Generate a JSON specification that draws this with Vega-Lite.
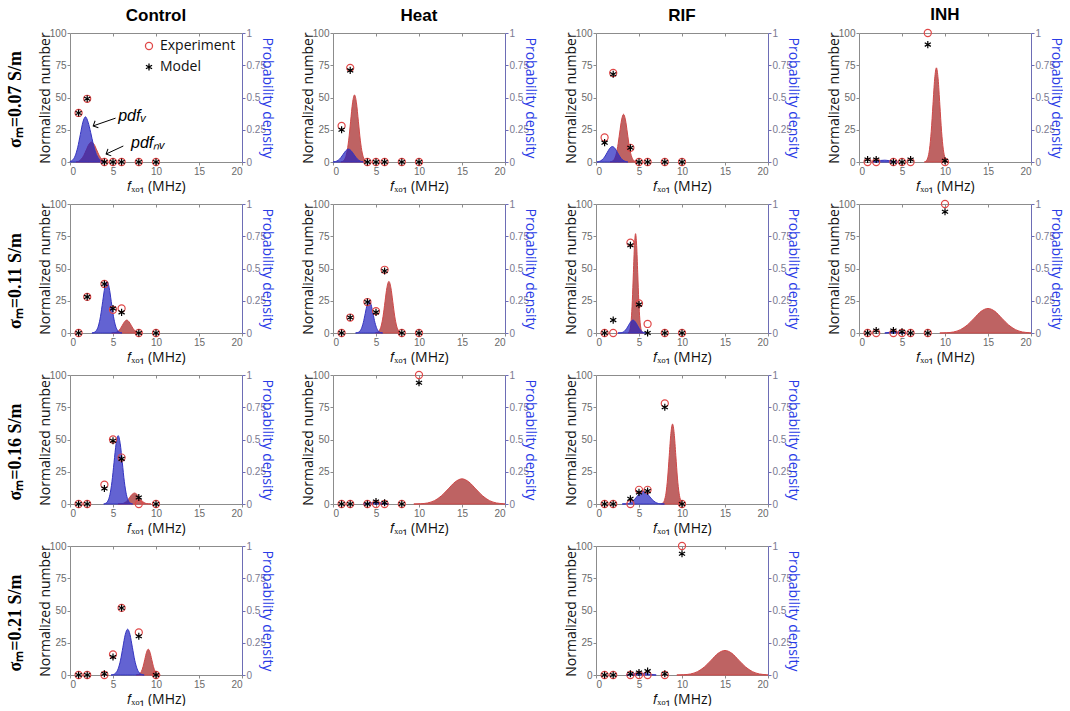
{
  "$schema": "https://vega.github.io/schema/vega-lite/v6.json",
  "background": "white",
  "padding": {"left": 7, "top": 6, "right": 0, "bottom": 0},
  "datasets": {
    "pts": [
      {"panel":"C07","series":"Experiment","f":1,"n":38},{"panel":"C07","series":"Experiment","f":2,"n":49},{"panel":"C07","series":"Experiment","f":4,"n":0},{"panel":"C07","series":"Experiment","f":5,"n":0},{"panel":"C07","series":"Experiment","f":6,"n":0},{"panel":"C07","series":"Experiment","f":8,"n":0},{"panel":"C07","series":"Experiment","f":10,"n":0},
      {"panel":"C07","series":"Model","f":1,"n":38},{"panel":"C07","series":"Model","f":2,"n":49},{"panel":"C07","series":"Model","f":4,"n":0},{"panel":"C07","series":"Model","f":5,"n":0},{"panel":"C07","series":"Model","f":6,"n":0},{"panel":"C07","series":"Model","f":8,"n":0},{"panel":"C07","series":"Model","f":10,"n":0},
      {"panel":"H07","series":"Experiment","f":1,"n":28},{"panel":"H07","series":"Experiment","f":2,"n":73},{"panel":"H07","series":"Experiment","f":4,"n":0},{"panel":"H07","series":"Experiment","f":5,"n":0},{"panel":"H07","series":"Experiment","f":6,"n":0},{"panel":"H07","series":"Experiment","f":8,"n":0},{"panel":"H07","series":"Experiment","f":10,"n":0},
      {"panel":"H07","series":"Model","f":1,"n":25},{"panel":"H07","series":"Model","f":2,"n":71},{"panel":"H07","series":"Model","f":4,"n":0},{"panel":"H07","series":"Model","f":5,"n":0},{"panel":"H07","series":"Model","f":6,"n":0},{"panel":"H07","series":"Model","f":8,"n":0},{"panel":"H07","series":"Model","f":10,"n":0},
      {"panel":"R07","series":"Experiment","f":1,"n":19},{"panel":"R07","series":"Experiment","f":2,"n":69},{"panel":"R07","series":"Experiment","f":4,"n":11},{"panel":"R07","series":"Experiment","f":5,"n":0},{"panel":"R07","series":"Experiment","f":6,"n":0},{"panel":"R07","series":"Experiment","f":8,"n":0},{"panel":"R07","series":"Experiment","f":10,"n":0},
      {"panel":"R07","series":"Model","f":1,"n":15},{"panel":"R07","series":"Model","f":2,"n":68},{"panel":"R07","series":"Model","f":4,"n":11},{"panel":"R07","series":"Model","f":5,"n":0},{"panel":"R07","series":"Model","f":6,"n":0},{"panel":"R07","series":"Model","f":8,"n":0},{"panel":"R07","series":"Model","f":10,"n":0},
      {"panel":"I07","series":"Experiment","f":1,"n":0},{"panel":"I07","series":"Experiment","f":2,"n":0},{"panel":"I07","series":"Experiment","f":4,"n":0},{"panel":"I07","series":"Experiment","f":5,"n":0},{"panel":"I07","series":"Experiment","f":6,"n":0},{"panel":"I07","series":"Experiment","f":8,"n":100},{"panel":"I07","series":"Experiment","f":10,"n":0},
      {"panel":"I07","series":"Model","f":1,"n":2},{"panel":"I07","series":"Model","f":2,"n":2},{"panel":"I07","series":"Model","f":4,"n":0},{"panel":"I07","series":"Model","f":5,"n":0},{"panel":"I07","series":"Model","f":6,"n":2},{"panel":"I07","series":"Model","f":8,"n":91},{"panel":"I07","series":"Model","f":10,"n":1},
      {"panel":"C11","series":"Experiment","f":1,"n":0},{"panel":"C11","series":"Experiment","f":2,"n":28},{"panel":"C11","series":"Experiment","f":4,"n":38},{"panel":"C11","series":"Experiment","f":5,"n":18},{"panel":"C11","series":"Experiment","f":6,"n":19},{"panel":"C11","series":"Experiment","f":8,"n":0},{"panel":"C11","series":"Experiment","f":10,"n":0},
      {"panel":"C11","series":"Model","f":1,"n":0},{"panel":"C11","series":"Model","f":2,"n":28},{"panel":"C11","series":"Model","f":4,"n":38},{"panel":"C11","series":"Model","f":5,"n":19},{"panel":"C11","series":"Model","f":6,"n":16},{"panel":"C11","series":"Model","f":8,"n":0},{"panel":"C11","series":"Model","f":10,"n":0},
      {"panel":"H11","series":"Experiment","f":1,"n":0},{"panel":"H11","series":"Experiment","f":2,"n":12},{"panel":"H11","series":"Experiment","f":4,"n":24},{"panel":"H11","series":"Experiment","f":5,"n":17},{"panel":"H11","series":"Experiment","f":6,"n":49},{"panel":"H11","series":"Experiment","f":8,"n":0},{"panel":"H11","series":"Experiment","f":10,"n":0},
      {"panel":"H11","series":"Model","f":1,"n":0},{"panel":"H11","series":"Model","f":2,"n":12},{"panel":"H11","series":"Model","f":4,"n":24},{"panel":"H11","series":"Model","f":5,"n":16},{"panel":"H11","series":"Model","f":6,"n":48},{"panel":"H11","series":"Model","f":8,"n":0},{"panel":"H11","series":"Model","f":10,"n":0},
      {"panel":"R11","series":"Experiment","f":1,"n":0},{"panel":"R11","series":"Experiment","f":2,"n":0},{"panel":"R11","series":"Experiment","f":4,"n":70},{"panel":"R11","series":"Experiment","f":5,"n":23},{"panel":"R11","series":"Experiment","f":6,"n":7},{"panel":"R11","series":"Experiment","f":8,"n":0},{"panel":"R11","series":"Experiment","f":10,"n":0},
      {"panel":"R11","series":"Model","f":1,"n":0},{"panel":"R11","series":"Model","f":2,"n":10},{"panel":"R11","series":"Model","f":4,"n":68},{"panel":"R11","series":"Model","f":5,"n":22},{"panel":"R11","series":"Model","f":6,"n":0},{"panel":"R11","series":"Model","f":8,"n":0},{"panel":"R11","series":"Model","f":10,"n":0},
      {"panel":"I11","series":"Experiment","f":1,"n":0},{"panel":"I11","series":"Experiment","f":2,"n":0},{"panel":"I11","series":"Experiment","f":4,"n":0},{"panel":"I11","series":"Experiment","f":5,"n":0},{"panel":"I11","series":"Experiment","f":6,"n":0},{"panel":"I11","series":"Experiment","f":8,"n":0},{"panel":"I11","series":"Experiment","f":10,"n":100},
      {"panel":"I11","series":"Model","f":1,"n":0},{"panel":"I11","series":"Model","f":2,"n":2},{"panel":"I11","series":"Model","f":4,"n":2},{"panel":"I11","series":"Model","f":5,"n":1},{"panel":"I11","series":"Model","f":6,"n":0},{"panel":"I11","series":"Model","f":8,"n":0},{"panel":"I11","series":"Model","f":10,"n":94},
      {"panel":"C16","series":"Experiment","f":1,"n":0},{"panel":"C16","series":"Experiment","f":2,"n":0},{"panel":"C16","series":"Experiment","f":4,"n":15},{"panel":"C16","series":"Experiment","f":5,"n":50},{"panel":"C16","series":"Experiment","f":6,"n":36},{"panel":"C16","series":"Experiment","f":8,"n":0},{"panel":"C16","series":"Experiment","f":10,"n":0},
      {"panel":"C16","series":"Model","f":1,"n":0},{"panel":"C16","series":"Model","f":2,"n":0},{"panel":"C16","series":"Model","f":4,"n":12},{"panel":"C16","series":"Model","f":5,"n":49},{"panel":"C16","series":"Model","f":6,"n":35},{"panel":"C16","series":"Model","f":8,"n":5},{"panel":"C16","series":"Model","f":10,"n":0},
      {"panel":"H16","series":"Experiment","f":1,"n":0},{"panel":"H16","series":"Experiment","f":2,"n":0},{"panel":"H16","series":"Experiment","f":4,"n":0},{"panel":"H16","series":"Experiment","f":5,"n":0},{"panel":"H16","series":"Experiment","f":6,"n":0},{"panel":"H16","series":"Experiment","f":8,"n":0},{"panel":"H16","series":"Experiment","f":10,"n":100},
      {"panel":"H16","series":"Model","f":1,"n":0},{"panel":"H16","series":"Model","f":2,"n":0},{"panel":"H16","series":"Model","f":4,"n":0},{"panel":"H16","series":"Model","f":5,"n":2},{"panel":"H16","series":"Model","f":6,"n":1},{"panel":"H16","series":"Model","f":8,"n":0},{"panel":"H16","series":"Model","f":10,"n":94},
      {"panel":"R16","series":"Experiment","f":1,"n":0},{"panel":"R16","series":"Experiment","f":2,"n":0},{"panel":"R16","series":"Experiment","f":4,"n":0},{"panel":"R16","series":"Experiment","f":5,"n":11},{"panel":"R16","series":"Experiment","f":6,"n":11},{"panel":"R16","series":"Experiment","f":8,"n":78},{"panel":"R16","series":"Experiment","f":10,"n":0},
      {"panel":"R16","series":"Model","f":1,"n":0},{"panel":"R16","series":"Model","f":2,"n":0},{"panel":"R16","series":"Model","f":4,"n":4},{"panel":"R16","series":"Model","f":5,"n":9},{"panel":"R16","series":"Model","f":6,"n":10},{"panel":"R16","series":"Model","f":8,"n":75},{"panel":"R16","series":"Model","f":10,"n":0},
      {"panel":"C21","series":"Experiment","f":1,"n":0},{"panel":"C21","series":"Experiment","f":2,"n":0},{"panel":"C21","series":"Experiment","f":4,"n":0},{"panel":"C21","series":"Experiment","f":5,"n":16},{"panel":"C21","series":"Experiment","f":6,"n":52},{"panel":"C21","series":"Experiment","f":8,"n":33},{"panel":"C21","series":"Experiment","f":10,"n":0},
      {"panel":"C21","series":"Model","f":1,"n":0},{"panel":"C21","series":"Model","f":2,"n":0},{"panel":"C21","series":"Model","f":4,"n":1},{"panel":"C21","series":"Model","f":5,"n":14},{"panel":"C21","series":"Model","f":6,"n":52},{"panel":"C21","series":"Model","f":8,"n":30},{"panel":"C21","series":"Model","f":10,"n":0},
      {"panel":"R21","series":"Experiment","f":1,"n":0},{"panel":"R21","series":"Experiment","f":2,"n":0},{"panel":"R21","series":"Experiment","f":4,"n":0},{"panel":"R21","series":"Experiment","f":5,"n":0},{"panel":"R21","series":"Experiment","f":6,"n":0},{"panel":"R21","series":"Experiment","f":8,"n":0},{"panel":"R21","series":"Experiment","f":10,"n":100},
      {"panel":"R21","series":"Model","f":1,"n":0},{"panel":"R21","series":"Model","f":2,"n":0},{"panel":"R21","series":"Model","f":4,"n":1},{"panel":"R21","series":"Model","f":5,"n":2},{"panel":"R21","series":"Model","f":6,"n":3},{"panel":"R21","series":"Model","f":8,"n":1},{"panel":"R21","series":"Model","f":10,"n":94}
    ],
    "pdf": [
      {"panel":"C07","series":"v","f":0,"p":0.004},{"panel":"C07","series":"v","f":0.3,"p":0.015},{"panel":"C07","series":"v","f":0.6,"p":0.047},{"panel":"C07","series":"v","f":0.9,"p":0.114},{"panel":"C07","series":"v","f":1.2,"p":0.212},{"panel":"C07","series":"v","f":1.5,"p":0.309},{"panel":"C07","series":"v","f":1.8,"p":0.35},{"panel":"C07","series":"v","f":2.1,"p":0.309},{"panel":"C07","series":"v","f":2.4,"p":0.23},{"panel":"C07","series":"v","f":2.7,"p":0.14},{"panel":"C07","series":"v","f":3.0,"p":0.07},{"panel":"C07","series":"v","f":3.3,"p":0.03},{"panel":"C07","series":"v","f":3.6,"p":0.01},{"panel":"C07","series":"v","f":3.9,"p":0},
      {"panel":"C07","series":"nv","f":0.7,"p":0},{"panel":"C07","series":"nv","f":1.0,"p":0.005},{"panel":"C07","series":"nv","f":1.3,"p":0.021},{"panel":"C07","series":"nv","f":1.6,"p":0.05},{"panel":"C07","series":"nv","f":1.9,"p":0.094},{"panel":"C07","series":"nv","f":2.2,"p":0.137},{"panel":"C07","series":"nv","f":2.5,"p":0.155},{"panel":"C07","series":"nv","f":2.8,"p":0.137},{"panel":"C07","series":"nv","f":3.1,"p":0.094},{"panel":"C07","series":"nv","f":3.4,"p":0.05},{"panel":"C07","series":"nv","f":3.7,"p":0.021},{"panel":"C07","series":"nv","f":4.0,"p":0.007},{"panel":"C07","series":"nv","f":4.3,"p":0},
      {"panel":"H07","series":"nv","f":0.925,"p":0},{"panel":"H07","series":"nv","f":1.15,"p":0.006},{"panel":"H07","series":"nv","f":1.375,"p":0.023},{"panel":"H07","series":"nv","f":1.6,"p":0.07},{"panel":"H07","series":"nv","f":1.825,"p":0.169},{"panel":"H07","series":"nv","f":2.05,"p":0.316},{"panel":"H07","series":"nv","f":2.275,"p":0.459},{"panel":"H07","series":"nv","f":2.5,"p":0.52},{"panel":"H07","series":"nv","f":2.725,"p":0.459},{"panel":"H07","series":"nv","f":2.95,"p":0.316},{"panel":"H07","series":"nv","f":3.175,"p":0.169},{"panel":"H07","series":"nv","f":3.4,"p":0.07},{"panel":"H07","series":"nv","f":3.625,"p":0.023},{"panel":"H07","series":"nv","f":3.85,"p":0.006},{"panel":"H07","series":"nv","f":4.075,"p":0},
      {"panel":"H07","series":"v","f":0,"p":0},{"panel":"H07","series":"v","f":0.3,"p":0.004},{"panel":"H07","series":"v","f":0.6,"p":0.013},{"panel":"H07","series":"v","f":0.9,"p":0.033},{"panel":"H07","series":"v","f":1.2,"p":0.061},{"panel":"H07","series":"v","f":1.5,"p":0.088},{"panel":"H07","series":"v","f":1.8,"p":0.1},{"panel":"H07","series":"v","f":2.1,"p":0.088},{"panel":"H07","series":"v","f":2.4,"p":0.061},{"panel":"H07","series":"v","f":2.7,"p":0.033},{"panel":"H07","series":"v","f":3.0,"p":0.013},{"panel":"H07","series":"v","f":3.3,"p":0.004},{"panel":"H07","series":"v","f":3.6,"p":0},
      {"panel":"R07","series":"nv","f":1.625,"p":0},{"panel":"R07","series":"nv","f":1.85,"p":0.004},{"panel":"R07","series":"nv","f":2.075,"p":0.016},{"panel":"R07","series":"nv","f":2.3,"p":0.05},{"panel":"R07","series":"nv","f":2.525,"p":0.12},{"panel":"R07","series":"nv","f":2.75,"p":0.225},{"panel":"R07","series":"nv","f":2.975,"p":0.326},{"panel":"R07","series":"nv","f":3.2,"p":0.37},{"panel":"R07","series":"nv","f":3.425,"p":0.326},{"panel":"R07","series":"nv","f":3.65,"p":0.225},{"panel":"R07","series":"nv","f":3.875,"p":0.12},{"panel":"R07","series":"nv","f":4.1,"p":0.05},{"panel":"R07","series":"nv","f":4.325,"p":0.016},{"panel":"R07","series":"nv","f":4.55,"p":0.004},{"panel":"R07","series":"nv","f":4.775,"p":0},
      {"panel":"R07","series":"v","f":0.1,"p":0},{"panel":"R07","series":"v","f":0.4,"p":0.005},{"panel":"R07","series":"v","f":0.7,"p":0.016},{"panel":"R07","series":"v","f":1.0,"p":0.039},{"panel":"R07","series":"v","f":1.3,"p":0.073},{"panel":"R07","series":"v","f":1.6,"p":0.106},{"panel":"R07","series":"v","f":1.9,"p":0.12},{"panel":"R07","series":"v","f":2.2,"p":0.106},{"panel":"R07","series":"v","f":2.5,"p":0.073},{"panel":"R07","series":"v","f":2.8,"p":0.039},{"panel":"R07","series":"v","f":3.1,"p":0.016},{"panel":"R07","series":"v","f":3.4,"p":0.005},{"panel":"R07","series":"v","f":3.7,"p":0},
      {"panel":"I07","series":"nv","f":7.6,"p":0},{"panel":"I07","series":"nv","f":7.8,"p":0.008},{"panel":"I07","series":"nv","f":8.0,"p":0.032},{"panel":"I07","series":"nv","f":8.2,"p":0.099},{"panel":"I07","series":"nv","f":8.4,"p":0.237},{"panel":"I07","series":"nv","f":8.6,"p":0.443},{"panel":"I07","series":"nv","f":8.8,"p":0.644},{"panel":"I07","series":"nv","f":9.0,"p":0.73},{"panel":"I07","series":"nv","f":9.2,"p":0.644},{"panel":"I07","series":"nv","f":9.4,"p":0.443},{"panel":"I07","series":"nv","f":9.6,"p":0.237},{"panel":"I07","series":"nv","f":9.8,"p":0.099},{"panel":"I07","series":"nv","f":10.0,"p":0.032},{"panel":"I07","series":"nv","f":10.2,"p":0.008},{"panel":"I07","series":"nv","f":10.4,"p":0},
      {"panel":"I07","series":"v","f":1.5,"p":0},{"panel":"I07","series":"v","f":2.0,"p":0.006},{"panel":"I07","series":"v","f":2.5,"p":0.012},{"panel":"I07","series":"v","f":3.0,"p":0.014},{"panel":"I07","series":"v","f":3.5,"p":0.01},{"panel":"I07","series":"v","f":4.0,"p":0.004},{"panel":"I07","series":"v","f":4.5,"p":0},
      {"panel":"C11","series":"nv","f":4.85,"p":0},{"panel":"C11","series":"nv","f":5.1,"p":0.001},{"panel":"C11","series":"nv","f":5.35,"p":0.004},{"panel":"C11","series":"nv","f":5.6,"p":0.014},{"panel":"C11","series":"nv","f":5.85,"p":0.033},{"panel":"C11","series":"nv","f":6.1,"p":0.061},{"panel":"C11","series":"nv","f":6.35,"p":0.088},{"panel":"C11","series":"nv","f":6.6,"p":0.1},{"panel":"C11","series":"nv","f":6.85,"p":0.088},{"panel":"C11","series":"nv","f":7.1,"p":0.061},{"panel":"C11","series":"nv","f":7.35,"p":0.033},{"panel":"C11","series":"nv","f":7.6,"p":0.014},{"panel":"C11","series":"nv","f":7.85,"p":0.004},{"panel":"C11","series":"nv","f":8.1,"p":0.001},{"panel":"C11","series":"nv","f":8.35,"p":0},
      {"panel":"C11","series":"v","f":2.55,"p":0},{"panel":"C11","series":"v","f":2.8,"p":0.004},{"panel":"C11","series":"v","f":3.05,"p":0.018},{"panel":"C11","series":"v","f":3.3,"p":0.054},{"panel":"C11","series":"v","f":3.55,"p":0.13},{"panel":"C11","series":"v","f":3.8,"p":0.243},{"panel":"C11","series":"v","f":4.05,"p":0.353},{"panel":"C11","series":"v","f":4.3,"p":0.4},{"panel":"C11","series":"v","f":4.55,"p":0.353},{"panel":"C11","series":"v","f":4.8,"p":0.243},{"panel":"C11","series":"v","f":5.05,"p":0.13},{"panel":"C11","series":"v","f":5.3,"p":0.054},{"panel":"C11","series":"v","f":5.55,"p":0.018},{"panel":"C11","series":"v","f":5.8,"p":0.004},{"panel":"C11","series":"v","f":6.05,"p":0},
      {"panel":"H11","series":"nv","f":4.925,"p":0},{"panel":"H11","series":"nv","f":5.15,"p":0.004},{"panel":"H11","series":"nv","f":5.375,"p":0.018},{"panel":"H11","series":"nv","f":5.6,"p":0.054},{"panel":"H11","series":"nv","f":5.825,"p":0.13},{"panel":"H11","series":"nv","f":6.05,"p":0.243},{"panel":"H11","series":"nv","f":6.275,"p":0.353},{"panel":"H11","series":"nv","f":6.5,"p":0.4},{"panel":"H11","series":"nv","f":6.725,"p":0.353},{"panel":"H11","series":"nv","f":6.95,"p":0.243},{"panel":"H11","series":"nv","f":7.175,"p":0.13},{"panel":"H11","series":"nv","f":7.4,"p":0.054},{"panel":"H11","series":"nv","f":7.625,"p":0.018},{"panel":"H11","series":"nv","f":7.85,"p":0.004},{"panel":"H11","series":"nv","f":8.075,"p":0},
      {"panel":"H11","series":"v","f":2.625,"p":0},{"panel":"H11","series":"v","f":2.85,"p":0.003},{"panel":"H11","series":"v","f":3.075,"p":0.011},{"panel":"H11","series":"v","f":3.3,"p":0.034},{"panel":"H11","series":"v","f":3.525,"p":0.081},{"panel":"H11","series":"v","f":3.75,"p":0.152},{"panel":"H11","series":"v","f":3.975,"p":0.221},{"panel":"H11","series":"v","f":4.2,"p":0.25},{"panel":"H11","series":"v","f":4.425,"p":0.221},{"panel":"H11","series":"v","f":4.65,"p":0.152},{"panel":"H11","series":"v","f":4.875,"p":0.081},{"panel":"H11","series":"v","f":5.1,"p":0.034},{"panel":"H11","series":"v","f":5.325,"p":0.011},{"panel":"H11","series":"v","f":5.55,"p":0.003},{"panel":"H11","series":"v","f":5.775,"p":0},
      {"panel":"R11","series":"nv","f":3.725,"p":0},{"panel":"R11","series":"nv","f":3.85,"p":0.008},{"panel":"R11","series":"nv","f":3.975,"p":0.034},{"panel":"R11","series":"nv","f":4.1,"p":0.104},{"panel":"R11","series":"nv","f":4.225,"p":0.25},{"panel":"R11","series":"nv","f":4.35,"p":0.467},{"panel":"R11","series":"nv","f":4.475,"p":0.679},{"panel":"R11","series":"nv","f":4.6,"p":0.77},{"panel":"R11","series":"nv","f":4.725,"p":0.679},{"panel":"R11","series":"nv","f":4.85,"p":0.467},{"panel":"R11","series":"nv","f":4.975,"p":0.25},{"panel":"R11","series":"nv","f":5.1,"p":0.104},{"panel":"R11","series":"nv","f":5.225,"p":0.034},{"panel":"R11","series":"nv","f":5.35,"p":0.008},{"panel":"R11","series":"nv","f":5.475,"p":0},
      {"panel":"R11","series":"v","f":2.55,"p":0},{"panel":"R11","series":"v","f":2.8,"p":0.001},{"panel":"R11","series":"v","f":3.05,"p":0.004},{"panel":"R11","series":"v","f":3.3,"p":0.014},{"panel":"R11","series":"v","f":3.55,"p":0.033},{"panel":"R11","series":"v","f":3.8,"p":0.061},{"panel":"R11","series":"v","f":4.05,"p":0.088},{"panel":"R11","series":"v","f":4.3,"p":0.1},{"panel":"R11","series":"v","f":4.55,"p":0.088},{"panel":"R11","series":"v","f":4.8,"p":0.061},{"panel":"R11","series":"v","f":5.05,"p":0.033},{"panel":"R11","series":"v","f":5.3,"p":0.014},{"panel":"R11","series":"v","f":5.55,"p":0.004},{"panel":"R11","series":"v","f":5.8,"p":0.001},{"panel":"R11","series":"v","f":6.05,"p":0},
      {"panel":"I11","series":"nv","f":9.4,"p":0},{"panel":"I11","series":"nv","f":10.2,"p":0.002},{"panel":"I11","series":"nv","f":11.0,"p":0.008},{"panel":"I11","series":"nv","f":11.8,"p":0.026},{"panel":"I11","series":"nv","f":12.6,"p":0.062},{"panel":"I11","series":"nv","f":13.4,"p":0.115},{"panel":"I11","series":"nv","f":14.2,"p":0.168},{"panel":"I11","series":"nv","f":15.0,"p":0.19},{"panel":"I11","series":"nv","f":15.8,"p":0.168},{"panel":"I11","series":"nv","f":16.6,"p":0.115},{"panel":"I11","series":"nv","f":17.4,"p":0.062},{"panel":"I11","series":"nv","f":18.2,"p":0.026},{"panel":"I11","series":"nv","f":19.0,"p":0.008},{"panel":"I11","series":"nv","f":19.8,"p":0.002},{"panel":"I11","series":"nv","f":20,"p":0},
      {"panel":"I11","series":"v","f":3,"p":0},{"panel":"I11","series":"v","f":3.5,"p":0.005},{"panel":"I11","series":"v","f":4,"p":0.01},{"panel":"I11","series":"v","f":4.5,"p":0.008},{"panel":"I11","series":"v","f":5,"p":0.004},{"panel":"I11","series":"v","f":5.5,"p":0},
      {"panel":"C16","series":"nv","f":5.575,"p":0},{"panel":"C16","series":"nv","f":5.85,"p":0.001},{"panel":"C16","series":"nv","f":6.125,"p":0.004},{"panel":"C16","series":"nv","f":6.4,"p":0.011},{"panel":"C16","series":"nv","f":6.675,"p":0.028},{"panel":"C16","series":"nv","f":6.95,"p":0.052},{"panel":"C16","series":"nv","f":7.225,"p":0.075},{"panel":"C16","series":"nv","f":7.5,"p":0.085},{"panel":"C16","series":"nv","f":7.775,"p":0.075},{"panel":"C16","series":"nv","f":8.05,"p":0.052},{"panel":"C16","series":"nv","f":8.325,"p":0.028},{"panel":"C16","series":"nv","f":8.6,"p":0.011},{"panel":"C16","series":"nv","f":8.875,"p":0.004},{"panel":"C16","series":"nv","f":9.15,"p":0.001},{"panel":"C16","series":"nv","f":9.425,"p":0},
      {"panel":"C16","series":"v","f":3.92,"p":0},{"panel":"C16","series":"v","f":4.16,"p":0.006},{"panel":"C16","series":"v","f":4.4,"p":0.023},{"panel":"C16","series":"v","f":4.64,"p":0.072},{"panel":"C16","series":"v","f":4.88,"p":0.172},{"panel":"C16","series":"v","f":5.12,"p":0.322},{"panel":"C16","series":"v","f":5.36,"p":0.467},{"panel":"C16","series":"v","f":5.6,"p":0.53},{"panel":"C16","series":"v","f":5.84,"p":0.467},{"panel":"C16","series":"v","f":6.08,"p":0.322},{"panel":"C16","series":"v","f":6.32,"p":0.172},{"panel":"C16","series":"v","f":6.56,"p":0.072},{"panel":"C16","series":"v","f":6.8,"p":0.023},{"panel":"C16","series":"v","f":7.04,"p":0.006},{"panel":"C16","series":"v","f":7.28,"p":0},
      {"panel":"H16","series":"nv","f":9.4,"p":0},{"panel":"H16","series":"nv","f":10.2,"p":0.002},{"panel":"H16","series":"nv","f":11.0,"p":0.008},{"panel":"H16","series":"nv","f":11.8,"p":0.026},{"panel":"H16","series":"nv","f":12.6,"p":0.063},{"panel":"H16","series":"nv","f":13.4,"p":0.117},{"panel":"H16","series":"nv","f":14.2,"p":0.171},{"panel":"H16","series":"nv","f":15.0,"p":0.195},{"panel":"H16","series":"nv","f":15.8,"p":0.171},{"panel":"H16","series":"nv","f":16.6,"p":0.117},{"panel":"H16","series":"nv","f":17.4,"p":0.063},{"panel":"H16","series":"nv","f":18.2,"p":0.026},{"panel":"H16","series":"nv","f":19.0,"p":0.008},{"panel":"H16","series":"nv","f":19.8,"p":0.002},{"panel":"H16","series":"nv","f":20,"p":0},
      {"panel":"H16","series":"v","f":3.5,"p":0},{"panel":"H16","series":"v","f":4,"p":0.005},{"panel":"H16","series":"v","f":4.5,"p":0.01},{"panel":"H16","series":"v","f":5,"p":0.012},{"panel":"H16","series":"v","f":5.5,"p":0.01},{"panel":"H16","series":"v","f":6,"p":0.006},{"panel":"H16","series":"v","f":6.5,"p":0},
      {"panel":"R16","series":"nv","f":7.57,"p":0},{"panel":"R16","series":"nv","f":7.76,"p":0.007},{"panel":"R16","series":"nv","f":7.95,"p":0.027},{"panel":"R16","series":"nv","f":8.14,"p":0.084},{"panel":"R16","series":"nv","f":8.33,"p":0.201},{"panel":"R16","series":"nv","f":8.52,"p":0.376},{"panel":"R16","series":"nv","f":8.71,"p":0.547},{"panel":"R16","series":"nv","f":8.9,"p":0.62},{"panel":"R16","series":"nv","f":9.09,"p":0.547},{"panel":"R16","series":"nv","f":9.28,"p":0.376},{"panel":"R16","series":"nv","f":9.47,"p":0.201},{"panel":"R16","series":"nv","f":9.66,"p":0.084},{"panel":"R16","series":"nv","f":9.85,"p":0.027},{"panel":"R16","series":"nv","f":10.04,"p":0.007},{"panel":"R16","series":"nv","f":10.23,"p":0},
      {"panel":"R16","series":"v","f":3.05,"p":0},{"panel":"R16","series":"v","f":3.4,"p":0.001},{"panel":"R16","series":"v","f":3.75,"p":0.004},{"panel":"R16","series":"v","f":4.1,"p":0.014},{"panel":"R16","series":"v","f":4.45,"p":0.033},{"panel":"R16","series":"v","f":4.8,"p":0.061},{"panel":"R16","series":"v","f":5.15,"p":0.088},{"panel":"R16","series":"v","f":5.5,"p":0.1},{"panel":"R16","series":"v","f":5.85,"p":0.088},{"panel":"R16","series":"v","f":6.2,"p":0.061},{"panel":"R16","series":"v","f":6.55,"p":0.033},{"panel":"R16","series":"v","f":6.9,"p":0.014},{"panel":"R16","series":"v","f":7.25,"p":0.004},{"panel":"R16","series":"v","f":7.6,"p":0.001},{"panel":"R16","series":"v","f":7.95,"p":0},
      {"panel":"C21","series":"nv","f":7.7,"p":0},{"panel":"C21","series":"nv","f":7.9,"p":0.002},{"panel":"C21","series":"nv","f":8.1,"p":0.009},{"panel":"C21","series":"nv","f":8.3,"p":0.027},{"panel":"C21","series":"nv","f":8.5,"p":0.065},{"panel":"C21","series":"nv","f":8.7,"p":0.121},{"panel":"C21","series":"nv","f":8.9,"p":0.176},{"panel":"C21","series":"nv","f":9.1,"p":0.2},{"panel":"C21","series":"nv","f":9.3,"p":0.176},{"panel":"C21","series":"nv","f":9.5,"p":0.121},{"panel":"C21","series":"nv","f":9.7,"p":0.065},{"panel":"C21","series":"nv","f":9.9,"p":0.027},{"panel":"C21","series":"nv","f":10.1,"p":0.009},{"panel":"C21","series":"nv","f":10.3,"p":0.002},{"panel":"C21","series":"nv","f":10.5,"p":0},
      {"panel":"C21","series":"v","f":4.775,"p":0},{"panel":"C21","series":"v","f":5.05,"p":0.004},{"panel":"C21","series":"v","f":5.325,"p":0.016},{"panel":"C21","series":"v","f":5.6,"p":0.048},{"panel":"C21","series":"v","f":5.875,"p":0.115},{"panel":"C21","series":"v","f":6.15,"p":0.215},{"panel":"C21","series":"v","f":6.425,"p":0.313},{"panel":"C21","series":"v","f":6.7,"p":0.355},{"panel":"C21","series":"v","f":6.975,"p":0.313},{"panel":"C21","series":"v","f":7.25,"p":0.215},{"panel":"C21","series":"v","f":7.525,"p":0.115},{"panel":"C21","series":"v","f":7.8,"p":0.048},{"panel":"C21","series":"v","f":8.075,"p":0.016},{"panel":"C21","series":"v","f":8.35,"p":0.004},{"panel":"C21","series":"v","f":8.625,"p":0},
      {"panel":"R21","series":"nv","f":9.4,"p":0},{"panel":"R21","series":"nv","f":10.2,"p":0.002},{"panel":"R21","series":"nv","f":11.0,"p":0.008},{"panel":"R21","series":"nv","f":11.8,"p":0.026},{"panel":"R21","series":"nv","f":12.6,"p":0.062},{"panel":"R21","series":"nv","f":13.4,"p":0.115},{"panel":"R21","series":"nv","f":14.2,"p":0.168},{"panel":"R21","series":"nv","f":15.0,"p":0.19},{"panel":"R21","series":"nv","f":15.8,"p":0.168},{"panel":"R21","series":"nv","f":16.6,"p":0.115},{"panel":"R21","series":"nv","f":17.4,"p":0.062},{"panel":"R21","series":"nv","f":18.2,"p":0.026},{"panel":"R21","series":"nv","f":19.0,"p":0.008},{"panel":"R21","series":"nv","f":19.8,"p":0.002},{"panel":"R21","series":"nv","f":20,"p":0},
      {"panel":"R21","series":"v","f":3.5,"p":0},{"panel":"R21","series":"v","f":4,"p":0.006},{"panel":"R21","series":"v","f":4.5,"p":0.012},{"panel":"R21","series":"v","f":5,"p":0.015},{"panel":"R21","series":"v","f":5.5,"p":0.013},{"panel":"R21","series":"v","f":6,"p":0.008},{"panel":"R21","series":"v","f":6.5,"p":0.003},{"panel":"R21","series":"v","f":7,"p":0}
    ],
    "notes": [
      {"label":"pdfᵥ","f":5.6,"n":36},
      {"label":"pdfₙᵥ","f":7.1,"n":15}
    ],
    "arrows": [
      {"f":5.3,"n":34,"f2":2.7,"n2":28},
      {"f":6.2,"n":12.4,"f2":4.2,"n2":6.2}
    ]
  },
  "spacing": 5,
  "resolve": {"legend": {"shape": "independent", "stroke": "independent"}},
  "vconcat": [
    {
      "title": {"text": "σₘ=0.07 S/m", "orient": "left", "anchor": "middle", "font": "Liberation Serif", "fontSize": 18, "fontWeight": "bold", "offset": 13},
      "spacing": 27,
      "resolve": {"legend": {"shape": "independent", "stroke": "independent"}},
      "hconcat": [
        {
          "width": 172, "height": 129,
          "title": {"text": "Control", "offset": 3},
          "layer": [
            {"encoding": {"x": {"field": "f", "type": "quantitative", "scale": {"domain": [0, 20]}, "axis": {"orient": "bottom", "values": [0, 5, 10, 15, 20], "title": "𝑓ₓₒ₁ (MHz)"}}, "y": {"field": "p", "type": "quantitative", "scale": {"domain": [0, 1]}, "axis": {"orient": "right", "values": [0, 0.25, 0.5, 0.75, 1], "labelExpr": "'' + datum.value", "title": "Probability density"}}},
             "layer": [
               {"data": {"name": "pdf"}, "transform": [{"filter": "datum.panel === 'C07' && datum.series === 'nv'"}], "mark": {"type": "area", "interpolate": "monotone", "fill": "#a22121", "fillOpacity": 0.7, "stroke": "#d04848", "strokeWidth": 1}},
               {"data": {"name": "pdf"}, "transform": [{"filter": "datum.panel === 'C07' && datum.series === 'v'"}], "mark": {"type": "area", "interpolate": "monotone", "fill": "#2121bf", "fillOpacity": 0.7, "stroke": "#3434c0", "strokeWidth": 1}}
             ]},
            {"encoding": {"x": {"field": "f", "type": "quantitative", "scale": {"domain": [0, 20]}, "axis": {"orient": "top", "values": [5, 10, 15], "labels": false, "title": null, "tickSize": -3}}, "y": {"field": "n", "type": "quantitative", "scale": {"domain": [0, 100]}, "axis": {"orient": "left", "values": [0, 25, 50, 75, 100], "title": "Normalized number"}}},
             "layer": [
               {"data": {"name": "pts"}, "transform": [{"filter": "datum.panel === 'C07'"}], "mark": {"type": "point", "filled": false, "size": 50, "strokeWidth": 1.2, "opacity": 1},
                "encoding": {"shape": {"field": "series", "type": "nominal", "scale": {"domain": ["Experiment", "Model"], "range": ["circle", "M0,-1L0,1M-0.87,-0.5L0.87,0.5M-0.87,0.5L0.87,-0.5"]}, "legend": {"orient": "top-right", "title": null}},
                             "stroke": {"field": "series", "type": "nominal", "scale": {"domain": ["Experiment", "Model"], "range": ["#e04848", "#000000"]}, "legend": {"orient": "top-right", "title": null}}}},
               {"data": {"name": "arrows"}, "mark": {"type": "rule", "color": "#000", "strokeWidth": 1}, "encoding": {"x2": {"field": "f2"}, "y2": {"field": "n2"}}},
               {"data": {"name": "arrows"}, "mark": {"type": "point", "shape": "M-1,-1L0,0L-1,1", "angle": 155, "size": 60, "filled": false, "stroke": "#000", "strokeWidth": 1, "opacity": 1}, "encoding": {"x": {"field": "f2", "type": "quantitative"}, "y": {"field": "n2", "type": "quantitative"}}},
               {"data": {"name": "notes"}, "mark": {"type": "text", "align": "left", "baseline": "middle", "font": "Liberation Sans", "fontStyle": "italic", "fontSize": 16, "color": "#000"}, "encoding": {"text": {"field": "label"}}}
             ]}
          ],
          "resolve": {"scale": {"y": "independent"}, "axis": {"x": "independent"}}
        },
        {
          "width": 172, "height": 129,
          "title": {"text": "Heat", "offset": 3},
          "layer": [
            {"encoding": {"x": {"field": "f", "type": "quantitative", "scale": {"domain": [0, 20]}, "axis": {"orient": "bottom", "values": [0, 5, 10, 15, 20], "title": "𝑓ₓₒ₁ (MHz)"}}, "y": {"field": "p", "type": "quantitative", "scale": {"domain": [0, 1]}, "axis": {"orient": "right", "values": [0, 0.25, 0.5, 0.75, 1], "labelExpr": "'' + datum.value", "title": "Probability density"}}},
             "layer": [
               {"data": {"name": "pdf"}, "transform": [{"filter": "datum.panel === 'H07' && datum.series === 'nv'"}], "mark": {"type": "area", "interpolate": "monotone", "fill": "#a22121", "fillOpacity": 0.7, "stroke": "#d04848", "strokeWidth": 1}},
               {"data": {"name": "pdf"}, "transform": [{"filter": "datum.panel === 'H07' && datum.series === 'v'"}], "mark": {"type": "area", "interpolate": "monotone", "fill": "#2121bf", "fillOpacity": 0.7, "stroke": "#3434c0", "strokeWidth": 1}}
             ]},
            {"encoding": {"x": {"field": "f", "type": "quantitative", "scale": {"domain": [0, 20]}, "axis": {"orient": "top", "values": [5, 10, 15], "labels": false, "title": null, "tickSize": -3}}, "y": {"field": "n", "type": "quantitative", "scale": {"domain": [0, 100]}, "axis": {"orient": "left", "values": [0, 25, 50, 75, 100], "title": "Normalized number"}}},
             "layer": [
               {"data": {"name": "pts"}, "transform": [{"filter": "datum.panel === 'H07'"}], "mark": {"type": "point", "filled": false, "size": 50, "strokeWidth": 1.2, "opacity": 1},
                "encoding": {"shape": {"field": "series", "type": "nominal", "scale": {"domain": ["Experiment", "Model"], "range": ["circle", "M0,-1L0,1M-0.87,-0.5L0.87,0.5M-0.87,0.5L0.87,-0.5"]}, "legend": null},
                             "stroke": {"field": "series", "type": "nominal", "scale": {"domain": ["Experiment", "Model"], "range": ["#e04848", "#000000"]}, "legend": null}}}
             ]}
          ],
          "resolve": {"scale": {"y": "independent"}, "axis": {"x": "independent"}}
        },
        {
          "width": 172, "height": 129,
          "title": {"text": "RIF", "offset": 3},
          "layer": [
            {"encoding": {"x": {"field": "f", "type": "quantitative", "scale": {"domain": [0, 20]}, "axis": {"orient": "bottom", "values": [0, 5, 10, 15, 20], "title": "𝑓ₓₒ₁ (MHz)"}}, "y": {"field": "p", "type": "quantitative", "scale": {"domain": [0, 1]}, "axis": {"orient": "right", "values": [0, 0.25, 0.5, 0.75, 1], "labelExpr": "'' + datum.value", "title": "Probability density"}}},
             "layer": [
               {"data": {"name": "pdf"}, "transform": [{"filter": "datum.panel === 'R07' && datum.series === 'nv'"}], "mark": {"type": "area", "interpolate": "monotone", "fill": "#a22121", "fillOpacity": 0.7, "stroke": "#d04848", "strokeWidth": 1}},
               {"data": {"name": "pdf"}, "transform": [{"filter": "datum.panel === 'R07' && datum.series === 'v'"}], "mark": {"type": "area", "interpolate": "monotone", "fill": "#2121bf", "fillOpacity": 0.7, "stroke": "#3434c0", "strokeWidth": 1}}
             ]},
            {"encoding": {"x": {"field": "f", "type": "quantitative", "scale": {"domain": [0, 20]}, "axis": {"orient": "top", "values": [5, 10, 15], "labels": false, "title": null, "tickSize": -3}}, "y": {"field": "n", "type": "quantitative", "scale": {"domain": [0, 100]}, "axis": {"orient": "left", "values": [0, 25, 50, 75, 100], "title": "Normalized number"}}},
             "layer": [
               {"data": {"name": "pts"}, "transform": [{"filter": "datum.panel === 'R07'"}], "mark": {"type": "point", "filled": false, "size": 50, "strokeWidth": 1.2, "opacity": 1},
                "encoding": {"shape": {"field": "series", "type": "nominal", "scale": {"domain": ["Experiment", "Model"], "range": ["circle", "M0,-1L0,1M-0.87,-0.5L0.87,0.5M-0.87,0.5L0.87,-0.5"]}, "legend": null},
                             "stroke": {"field": "series", "type": "nominal", "scale": {"domain": ["Experiment", "Model"], "range": ["#e04848", "#000000"]}, "legend": null}}}
             ]}
          ],
          "resolve": {"scale": {"y": "independent"}, "axis": {"x": "independent"}}
        },
        {
          "width": 172, "height": 129,
          "title": {"text": "INH", "offset": 3},
          "layer": [
            {"encoding": {"x": {"field": "f", "type": "quantitative", "scale": {"domain": [0, 20]}, "axis": {"orient": "bottom", "values": [0, 5, 10, 15, 20], "title": "𝑓ₓₒ₁ (MHz)"}}, "y": {"field": "p", "type": "quantitative", "scale": {"domain": [0, 1]}, "axis": {"orient": "right", "values": [0, 0.25, 0.5, 0.75, 1], "labelExpr": "'' + datum.value", "title": "Probability density"}}},
             "layer": [
               {"data": {"name": "pdf"}, "transform": [{"filter": "datum.panel === 'I07' && datum.series === 'nv'"}], "mark": {"type": "area", "interpolate": "monotone", "fill": "#a22121", "fillOpacity": 0.7, "stroke": "#d04848", "strokeWidth": 1}},
               {"data": {"name": "pdf"}, "transform": [{"filter": "datum.panel === 'I07' && datum.series === 'v'"}], "mark": {"type": "area", "interpolate": "monotone", "fill": "#2121bf", "fillOpacity": 0.7, "stroke": "#3434c0", "strokeWidth": 1}}
             ]},
            {"encoding": {"x": {"field": "f", "type": "quantitative", "scale": {"domain": [0, 20]}, "axis": {"orient": "top", "values": [5, 10, 15], "labels": false, "title": null, "tickSize": -3}}, "y": {"field": "n", "type": "quantitative", "scale": {"domain": [0, 100]}, "axis": {"orient": "left", "values": [0, 25, 50, 75, 100], "title": "Normalized number"}}},
             "layer": [
               {"data": {"name": "pts"}, "transform": [{"filter": "datum.panel === 'I07'"}], "mark": {"type": "point", "filled": false, "size": 50, "strokeWidth": 1.2, "opacity": 1},
                "encoding": {"shape": {"field": "series", "type": "nominal", "scale": {"domain": ["Experiment", "Model"], "range": ["circle", "M0,-1L0,1M-0.87,-0.5L0.87,0.5M-0.87,0.5L0.87,-0.5"]}, "legend": null},
                             "stroke": {"field": "series", "type": "nominal", "scale": {"domain": ["Experiment", "Model"], "range": ["#e04848", "#000000"]}, "legend": null}}}
             ]}
          ],
          "resolve": {"scale": {"y": "independent"}, "axis": {"x": "independent"}}
        }
      ]
    },
    {
      "title": {"text": "σₘ=0.11 S/m", "orient": "left", "anchor": "middle", "font": "Liberation Serif", "fontSize": 18, "fontWeight": "bold", "offset": 13},
      "spacing": 27,
      "resolve": {"legend": {"shape": "independent", "stroke": "independent"}},
      "hconcat": [
        {
          "width": 172, "height": 129,
          "layer": [
            {"encoding": {"x": {"field": "f", "type": "quantitative", "scale": {"domain": [0, 20]}, "axis": {"orient": "bottom", "values": [0, 5, 10, 15, 20], "title": "𝑓ₓₒ₁ (MHz)"}}, "y": {"field": "p", "type": "quantitative", "scale": {"domain": [0, 1]}, "axis": {"orient": "right", "values": [0, 0.25, 0.5, 0.75, 1], "labelExpr": "'' + datum.value", "title": "Probability density"}}},
             "layer": [
               {"data": {"name": "pdf"}, "transform": [{"filter": "datum.panel === 'C11' && datum.series === 'nv'"}], "mark": {"type": "area", "interpolate": "monotone", "fill": "#a22121", "fillOpacity": 0.7, "stroke": "#d04848", "strokeWidth": 1}},
               {"data": {"name": "pdf"}, "transform": [{"filter": "datum.panel === 'C11' && datum.series === 'v'"}], "mark": {"type": "area", "interpolate": "monotone", "fill": "#2121bf", "fillOpacity": 0.7, "stroke": "#3434c0", "strokeWidth": 1}}
             ]},
            {"encoding": {"x": {"field": "f", "type": "quantitative", "scale": {"domain": [0, 20]}, "axis": {"orient": "top", "values": [5, 10, 15], "labels": false, "title": null, "tickSize": -3}}, "y": {"field": "n", "type": "quantitative", "scale": {"domain": [0, 100]}, "axis": {"orient": "left", "values": [0, 25, 50, 75, 100], "title": "Normalized number"}}},
             "layer": [
               {"data": {"name": "pts"}, "transform": [{"filter": "datum.panel === 'C11'"}], "mark": {"type": "point", "filled": false, "size": 50, "strokeWidth": 1.2, "opacity": 1},
                "encoding": {"shape": {"field": "series", "type": "nominal", "scale": {"domain": ["Experiment", "Model"], "range": ["circle", "M0,-1L0,1M-0.87,-0.5L0.87,0.5M-0.87,0.5L0.87,-0.5"]}, "legend": null},
                             "stroke": {"field": "series", "type": "nominal", "scale": {"domain": ["Experiment", "Model"], "range": ["#e04848", "#000000"]}, "legend": null}}}
             ]}
          ],
          "resolve": {"scale": {"y": "independent"}, "axis": {"x": "independent"}}
        },
        {
          "width": 172, "height": 129,
          "layer": [
            {"encoding": {"x": {"field": "f", "type": "quantitative", "scale": {"domain": [0, 20]}, "axis": {"orient": "bottom", "values": [0, 5, 10, 15, 20], "title": "𝑓ₓₒ₁ (MHz)"}}, "y": {"field": "p", "type": "quantitative", "scale": {"domain": [0, 1]}, "axis": {"orient": "right", "values": [0, 0.25, 0.5, 0.75, 1], "labelExpr": "'' + datum.value", "title": "Probability density"}}},
             "layer": [
               {"data": {"name": "pdf"}, "transform": [{"filter": "datum.panel === 'H11' && datum.series === 'nv'"}], "mark": {"type": "area", "interpolate": "monotone", "fill": "#a22121", "fillOpacity": 0.7, "stroke": "#d04848", "strokeWidth": 1}},
               {"data": {"name": "pdf"}, "transform": [{"filter": "datum.panel === 'H11' && datum.series === 'v'"}], "mark": {"type": "area", "interpolate": "monotone", "fill": "#2121bf", "fillOpacity": 0.7, "stroke": "#3434c0", "strokeWidth": 1}}
             ]},
            {"encoding": {"x": {"field": "f", "type": "quantitative", "scale": {"domain": [0, 20]}, "axis": {"orient": "top", "values": [5, 10, 15], "labels": false, "title": null, "tickSize": -3}}, "y": {"field": "n", "type": "quantitative", "scale": {"domain": [0, 100]}, "axis": {"orient": "left", "values": [0, 25, 50, 75, 100], "title": "Normalized number"}}},
             "layer": [
               {"data": {"name": "pts"}, "transform": [{"filter": "datum.panel === 'H11'"}], "mark": {"type": "point", "filled": false, "size": 50, "strokeWidth": 1.2, "opacity": 1},
                "encoding": {"shape": {"field": "series", "type": "nominal", "scale": {"domain": ["Experiment", "Model"], "range": ["circle", "M0,-1L0,1M-0.87,-0.5L0.87,0.5M-0.87,0.5L0.87,-0.5"]}, "legend": null},
                             "stroke": {"field": "series", "type": "nominal", "scale": {"domain": ["Experiment", "Model"], "range": ["#e04848", "#000000"]}, "legend": null}}}
             ]}
          ],
          "resolve": {"scale": {"y": "independent"}, "axis": {"x": "independent"}}
        },
        {
          "width": 172, "height": 129,
          "layer": [
            {"encoding": {"x": {"field": "f", "type": "quantitative", "scale": {"domain": [0, 20]}, "axis": {"orient": "bottom", "values": [0, 5, 10, 15, 20], "title": "𝑓ₓₒ₁ (MHz)"}}, "y": {"field": "p", "type": "quantitative", "scale": {"domain": [0, 1]}, "axis": {"orient": "right", "values": [0, 0.25, 0.5, 0.75, 1], "labelExpr": "'' + datum.value", "title": "Probability density"}}},
             "layer": [
               {"data": {"name": "pdf"}, "transform": [{"filter": "datum.panel === 'R11' && datum.series === 'nv'"}], "mark": {"type": "area", "interpolate": "monotone", "fill": "#a22121", "fillOpacity": 0.7, "stroke": "#d04848", "strokeWidth": 1}},
               {"data": {"name": "pdf"}, "transform": [{"filter": "datum.panel === 'R11' && datum.series === 'v'"}], "mark": {"type": "area", "interpolate": "monotone", "fill": "#2121bf", "fillOpacity": 0.7, "stroke": "#3434c0", "strokeWidth": 1}}
             ]},
            {"encoding": {"x": {"field": "f", "type": "quantitative", "scale": {"domain": [0, 20]}, "axis": {"orient": "top", "values": [5, 10, 15], "labels": false, "title": null, "tickSize": -3}}, "y": {"field": "n", "type": "quantitative", "scale": {"domain": [0, 100]}, "axis": {"orient": "left", "values": [0, 25, 50, 75, 100], "title": "Normalized number"}}},
             "layer": [
               {"data": {"name": "pts"}, "transform": [{"filter": "datum.panel === 'R11'"}], "mark": {"type": "point", "filled": false, "size": 50, "strokeWidth": 1.2, "opacity": 1},
                "encoding": {"shape": {"field": "series", "type": "nominal", "scale": {"domain": ["Experiment", "Model"], "range": ["circle", "M0,-1L0,1M-0.87,-0.5L0.87,0.5M-0.87,0.5L0.87,-0.5"]}, "legend": null},
                             "stroke": {"field": "series", "type": "nominal", "scale": {"domain": ["Experiment", "Model"], "range": ["#e04848", "#000000"]}, "legend": null}}}
             ]}
          ],
          "resolve": {"scale": {"y": "independent"}, "axis": {"x": "independent"}}
        },
        {
          "width": 172, "height": 129,
          "layer": [
            {"encoding": {"x": {"field": "f", "type": "quantitative", "scale": {"domain": [0, 20]}, "axis": {"orient": "bottom", "values": [0, 5, 10, 15, 20], "title": "𝑓ₓₒ₁ (MHz)"}}, "y": {"field": "p", "type": "quantitative", "scale": {"domain": [0, 1]}, "axis": {"orient": "right", "values": [0, 0.25, 0.5, 0.75, 1], "labelExpr": "'' + datum.value", "title": "Probability density"}}},
             "layer": [
               {"data": {"name": "pdf"}, "transform": [{"filter": "datum.panel === 'I11' && datum.series === 'nv'"}], "mark": {"type": "area", "interpolate": "monotone", "fill": "#a22121", "fillOpacity": 0.7, "stroke": "#d04848", "strokeWidth": 1}},
               {"data": {"name": "pdf"}, "transform": [{"filter": "datum.panel === 'I11' && datum.series === 'v'"}], "mark": {"type": "area", "interpolate": "monotone", "fill": "#2121bf", "fillOpacity": 0.7, "stroke": "#3434c0", "strokeWidth": 1}}
             ]},
            {"encoding": {"x": {"field": "f", "type": "quantitative", "scale": {"domain": [0, 20]}, "axis": {"orient": "top", "values": [5, 10, 15], "labels": false, "title": null, "tickSize": -3}}, "y": {"field": "n", "type": "quantitative", "scale": {"domain": [0, 100]}, "axis": {"orient": "left", "values": [0, 25, 50, 75, 100], "title": "Normalized number"}}},
             "layer": [
               {"data": {"name": "pts"}, "transform": [{"filter": "datum.panel === 'I11'"}], "mark": {"type": "point", "filled": false, "size": 50, "strokeWidth": 1.2, "opacity": 1},
                "encoding": {"shape": {"field": "series", "type": "nominal", "scale": {"domain": ["Experiment", "Model"], "range": ["circle", "M0,-1L0,1M-0.87,-0.5L0.87,0.5M-0.87,0.5L0.87,-0.5"]}, "legend": null},
                             "stroke": {"field": "series", "type": "nominal", "scale": {"domain": ["Experiment", "Model"], "range": ["#e04848", "#000000"]}, "legend": null}}}
             ]}
          ],
          "resolve": {"scale": {"y": "independent"}, "axis": {"x": "independent"}}
        }
      ]
    },
    {
      "title": {"text": "σₘ=0.16 S/m", "orient": "left", "anchor": "middle", "font": "Liberation Serif", "fontSize": 18, "fontWeight": "bold", "offset": 13},
      "spacing": 27,
      "resolve": {"legend": {"shape": "independent", "stroke": "independent"}},
      "hconcat": [
        {
          "width": 172, "height": 129,
          "layer": [
            {"encoding": {"x": {"field": "f", "type": "quantitative", "scale": {"domain": [0, 20]}, "axis": {"orient": "bottom", "values": [0, 5, 10, 15, 20], "title": "𝑓ₓₒ₁ (MHz)"}}, "y": {"field": "p", "type": "quantitative", "scale": {"domain": [0, 1]}, "axis": {"orient": "right", "values": [0, 0.25, 0.5, 0.75, 1], "labelExpr": "'' + datum.value", "title": "Probability density"}}},
             "layer": [
               {"data": {"name": "pdf"}, "transform": [{"filter": "datum.panel === 'C16' && datum.series === 'nv'"}], "mark": {"type": "area", "interpolate": "monotone", "fill": "#a22121", "fillOpacity": 0.7, "stroke": "#d04848", "strokeWidth": 1}},
               {"data": {"name": "pdf"}, "transform": [{"filter": "datum.panel === 'C16' && datum.series === 'v'"}], "mark": {"type": "area", "interpolate": "monotone", "fill": "#2121bf", "fillOpacity": 0.7, "stroke": "#3434c0", "strokeWidth": 1}}
             ]},
            {"encoding": {"x": {"field": "f", "type": "quantitative", "scale": {"domain": [0, 20]}, "axis": {"orient": "top", "values": [5, 10, 15], "labels": false, "title": null, "tickSize": -3}}, "y": {"field": "n", "type": "quantitative", "scale": {"domain": [0, 100]}, "axis": {"orient": "left", "values": [0, 25, 50, 75, 100], "title": "Normalized number"}}},
             "layer": [
               {"data": {"name": "pts"}, "transform": [{"filter": "datum.panel === 'C16'"}], "mark": {"type": "point", "filled": false, "size": 50, "strokeWidth": 1.2, "opacity": 1},
                "encoding": {"shape": {"field": "series", "type": "nominal", "scale": {"domain": ["Experiment", "Model"], "range": ["circle", "M0,-1L0,1M-0.87,-0.5L0.87,0.5M-0.87,0.5L0.87,-0.5"]}, "legend": null},
                             "stroke": {"field": "series", "type": "nominal", "scale": {"domain": ["Experiment", "Model"], "range": ["#e04848", "#000000"]}, "legend": null}}}
             ]}
          ],
          "resolve": {"scale": {"y": "independent"}, "axis": {"x": "independent"}}
        },
        {
          "width": 172, "height": 129,
          "layer": [
            {"encoding": {"x": {"field": "f", "type": "quantitative", "scale": {"domain": [0, 20]}, "axis": {"orient": "bottom", "values": [0, 5, 10, 15, 20], "title": "𝑓ₓₒ₁ (MHz)"}}, "y": {"field": "p", "type": "quantitative", "scale": {"domain": [0, 1]}, "axis": {"orient": "right", "values": [0, 0.25, 0.5, 0.75, 1], "labelExpr": "'' + datum.value", "title": "Probability density"}}},
             "layer": [
               {"data": {"name": "pdf"}, "transform": [{"filter": "datum.panel === 'H16' && datum.series === 'nv'"}], "mark": {"type": "area", "interpolate": "monotone", "fill": "#a22121", "fillOpacity": 0.7, "stroke": "#d04848", "strokeWidth": 1}},
               {"data": {"name": "pdf"}, "transform": [{"filter": "datum.panel === 'H16' && datum.series === 'v'"}], "mark": {"type": "area", "interpolate": "monotone", "fill": "#2121bf", "fillOpacity": 0.7, "stroke": "#3434c0", "strokeWidth": 1}}
             ]},
            {"encoding": {"x": {"field": "f", "type": "quantitative", "scale": {"domain": [0, 20]}, "axis": {"orient": "top", "values": [5, 10, 15], "labels": false, "title": null, "tickSize": -3}}, "y": {"field": "n", "type": "quantitative", "scale": {"domain": [0, 100]}, "axis": {"orient": "left", "values": [0, 25, 50, 75, 100], "title": "Normalized number"}}},
             "layer": [
               {"data": {"name": "pts"}, "transform": [{"filter": "datum.panel === 'H16'"}], "mark": {"type": "point", "filled": false, "size": 50, "strokeWidth": 1.2, "opacity": 1},
                "encoding": {"shape": {"field": "series", "type": "nominal", "scale": {"domain": ["Experiment", "Model"], "range": ["circle", "M0,-1L0,1M-0.87,-0.5L0.87,0.5M-0.87,0.5L0.87,-0.5"]}, "legend": null},
                             "stroke": {"field": "series", "type": "nominal", "scale": {"domain": ["Experiment", "Model"], "range": ["#e04848", "#000000"]}, "legend": null}}}
             ]}
          ],
          "resolve": {"scale": {"y": "independent"}, "axis": {"x": "independent"}}
        },
        {
          "width": 172, "height": 129,
          "layer": [
            {"encoding": {"x": {"field": "f", "type": "quantitative", "scale": {"domain": [0, 20]}, "axis": {"orient": "bottom", "values": [0, 5, 10, 15, 20], "title": "𝑓ₓₒ₁ (MHz)"}}, "y": {"field": "p", "type": "quantitative", "scale": {"domain": [0, 1]}, "axis": {"orient": "right", "values": [0, 0.25, 0.5, 0.75, 1], "labelExpr": "'' + datum.value", "title": "Probability density"}}},
             "layer": [
               {"data": {"name": "pdf"}, "transform": [{"filter": "datum.panel === 'R16' && datum.series === 'nv'"}], "mark": {"type": "area", "interpolate": "monotone", "fill": "#a22121", "fillOpacity": 0.7, "stroke": "#d04848", "strokeWidth": 1}},
               {"data": {"name": "pdf"}, "transform": [{"filter": "datum.panel === 'R16' && datum.series === 'v'"}], "mark": {"type": "area", "interpolate": "monotone", "fill": "#2121bf", "fillOpacity": 0.7, "stroke": "#3434c0", "strokeWidth": 1}}
             ]},
            {"encoding": {"x": {"field": "f", "type": "quantitative", "scale": {"domain": [0, 20]}, "axis": {"orient": "top", "values": [5, 10, 15], "labels": false, "title": null, "tickSize": -3}}, "y": {"field": "n", "type": "quantitative", "scale": {"domain": [0, 100]}, "axis": {"orient": "left", "values": [0, 25, 50, 75, 100], "title": "Normalized number"}}},
             "layer": [
               {"data": {"name": "pts"}, "transform": [{"filter": "datum.panel === 'R16'"}], "mark": {"type": "point", "filled": false, "size": 50, "strokeWidth": 1.2, "opacity": 1},
                "encoding": {"shape": {"field": "series", "type": "nominal", "scale": {"domain": ["Experiment", "Model"], "range": ["circle", "M0,-1L0,1M-0.87,-0.5L0.87,0.5M-0.87,0.5L0.87,-0.5"]}, "legend": null},
                             "stroke": {"field": "series", "type": "nominal", "scale": {"domain": ["Experiment", "Model"], "range": ["#e04848", "#000000"]}, "legend": null}}}
             ]}
          ],
          "resolve": {"scale": {"y": "independent"}, "axis": {"x": "independent"}}
        }
      ]
    },
    {
      "title": {"text": "σₘ=0.21 S/m", "orient": "left", "anchor": "middle", "font": "Liberation Serif", "fontSize": 18, "fontWeight": "bold", "offset": 13},
      "spacing": 27,
      "resolve": {"legend": {"shape": "independent", "stroke": "independent"}},
      "hconcat": [
        {
          "width": 172, "height": 129,
          "layer": [
            {"encoding": {"x": {"field": "f", "type": "quantitative", "scale": {"domain": [0, 20]}, "axis": {"orient": "bottom", "values": [0, 5, 10, 15, 20], "title": "𝑓ₓₒ₁ (MHz)"}}, "y": {"field": "p", "type": "quantitative", "scale": {"domain": [0, 1]}, "axis": {"orient": "right", "values": [0, 0.25, 0.5, 0.75, 1], "labelExpr": "'' + datum.value", "title": "Probability density"}}},
             "layer": [
               {"data": {"name": "pdf"}, "transform": [{"filter": "datum.panel === 'C21' && datum.series === 'nv'"}], "mark": {"type": "area", "interpolate": "monotone", "fill": "#a22121", "fillOpacity": 0.7, "stroke": "#d04848", "strokeWidth": 1}},
               {"data": {"name": "pdf"}, "transform": [{"filter": "datum.panel === 'C21' && datum.series === 'v'"}], "mark": {"type": "area", "interpolate": "monotone", "fill": "#2121bf", "fillOpacity": 0.7, "stroke": "#3434c0", "strokeWidth": 1}}
             ]},
            {"encoding": {"x": {"field": "f", "type": "quantitative", "scale": {"domain": [0, 20]}, "axis": {"orient": "top", "values": [5, 10, 15], "labels": false, "title": null, "tickSize": -3}}, "y": {"field": "n", "type": "quantitative", "scale": {"domain": [0, 100]}, "axis": {"orient": "left", "values": [0, 25, 50, 75, 100], "title": "Normalized number"}}},
             "layer": [
               {"data": {"name": "pts"}, "transform": [{"filter": "datum.panel === 'C21'"}], "mark": {"type": "point", "filled": false, "size": 50, "strokeWidth": 1.2, "opacity": 1},
                "encoding": {"shape": {"field": "series", "type": "nominal", "scale": {"domain": ["Experiment", "Model"], "range": ["circle", "M0,-1L0,1M-0.87,-0.5L0.87,0.5M-0.87,0.5L0.87,-0.5"]}, "legend": null},
                             "stroke": {"field": "series", "type": "nominal", "scale": {"domain": ["Experiment", "Model"], "range": ["#e04848", "#000000"]}, "legend": null}}}
             ]}
          ],
          "resolve": {"scale": {"y": "independent"}, "axis": {"x": "independent"}}
        },
        {
          "width": 172, "height": 129,
          "layer": [
            {"encoding": {"x": {"field": "f", "type": "quantitative", "scale": {"domain": [0, 20]}, "axis": {"orient": "bottom", "values": [0, 5, 10, 15, 20], "title": "𝑓ₓₒ₁ (MHz)", "labelOpacity": 0, "domainOpacity": 0, "tickOpacity": 0, "titleOpacity": 0}}, "y": {"field": "p", "type": "quantitative", "scale": {"domain": [0, 1]}, "axis": {"orient": "right", "values": [0, 0.25, 0.5, 0.75, 1], "labelExpr": "'' + datum.value", "title": "Probability density", "labelOpacity": 0, "domainOpacity": 0, "tickOpacity": 0, "titleOpacity": 0}}},
             "layer": [
               {"data": {"name": "pdf"}, "transform": [{"filter": "datum.panel === 'none'"}], "mark": {"type": "area", "fillOpacity": 0}}
             ]},
            {"encoding": {"x": {"field": "f", "type": "quantitative", "scale": {"domain": [0, 20]}, "axis": null}, "y": {"field": "n", "type": "quantitative", "scale": {"domain": [0, 100]}, "axis": {"orient": "left", "values": [0, 25, 50, 75, 100], "title": "Normalized number", "labelOpacity": 0, "domainOpacity": 0, "tickOpacity": 0, "titleOpacity": 0}}},
             "layer": [
               {"data": {"name": "pts"}, "transform": [{"filter": "datum.panel === 'none'"}], "mark": {"type": "point", "opacity": 0}}
             ]}
          ],
          "resolve": {"scale": {"y": "independent"}, "axis": {"x": "independent"}}
        },
        {
          "width": 172, "height": 129,
          "layer": [
            {"encoding": {"x": {"field": "f", "type": "quantitative", "scale": {"domain": [0, 20]}, "axis": {"orient": "bottom", "values": [0, 5, 10, 15, 20], "title": "𝑓ₓₒ₁ (MHz)"}}, "y": {"field": "p", "type": "quantitative", "scale": {"domain": [0, 1]}, "axis": {"orient": "right", "values": [0, 0.25, 0.5, 0.75, 1], "labelExpr": "'' + datum.value", "title": "Probability density"}}},
             "layer": [
               {"data": {"name": "pdf"}, "transform": [{"filter": "datum.panel === 'R21' && datum.series === 'nv'"}], "mark": {"type": "area", "interpolate": "monotone", "fill": "#a22121", "fillOpacity": 0.7, "stroke": "#d04848", "strokeWidth": 1}},
               {"data": {"name": "pdf"}, "transform": [{"filter": "datum.panel === 'R21' && datum.series === 'v'"}], "mark": {"type": "area", "interpolate": "monotone", "fill": "#2121bf", "fillOpacity": 0.7, "stroke": "#3434c0", "strokeWidth": 1}}
             ]},
            {"encoding": {"x": {"field": "f", "type": "quantitative", "scale": {"domain": [0, 20]}, "axis": {"orient": "top", "values": [5, 10, 15], "labels": false, "title": null, "tickSize": -3}}, "y": {"field": "n", "type": "quantitative", "scale": {"domain": [0, 100]}, "axis": {"orient": "left", "values": [0, 25, 50, 75, 100], "title": "Normalized number"}}},
             "layer": [
               {"data": {"name": "pts"}, "transform": [{"filter": "datum.panel === 'R21'"}], "mark": {"type": "point", "filled": false, "size": 50, "strokeWidth": 1.2, "opacity": 1},
                "encoding": {"shape": {"field": "series", "type": "nominal", "scale": {"domain": ["Experiment", "Model"], "range": ["circle", "M0,-1L0,1M-0.87,-0.5L0.87,0.5M-0.87,0.5L0.87,-0.5"]}, "legend": null},
                             "stroke": {"field": "series", "type": "nominal", "scale": {"domain": ["Experiment", "Model"], "range": ["#e04848", "#000000"]}, "legend": null}}}
             ]}
          ],
          "resolve": {"scale": {"y": "independent"}, "axis": {"x": "independent"}}
        }
      ]
    }
  ],
  "config": {
    "view": {"stroke": null},
    "font": "Liberation Sans",
    "axis": {"grid": false, "labelFont": "Liberation Sans", "labelFontSize": 10, "labelColor": "#6a6a6a", "domainColor": "#8c8c8c", "tickColor": "#8c8c8c", "tickSize": 3, "labelPadding": 1, "titleFont": "Open Sans", "titleFontSize": 14, "titleFontWeight": "normal", "titleColor": "#111111", "titlePadding": 3},
    "axisLeft": {"titlePadding": -3},
    "axisRight": {"domainColor": "#6d6db5", "tickColor": "#6d6db5", "titleColor": "#2a3ce6", "titlePadding": -6, "labelColor": "#7a7a90"},
    "title": {"font": "Liberation Sans", "fontSize": 17, "fontWeight": "bold", "color": "#000000"},
    "legend": {"labelFont": "Open Sans", "labelFontSize": 14, "labelColor": "#111111", "symbolSize": 50, "symbolStrokeWidth": 1.3, "rowPadding": 7, "padding": 0, "offset": 6}
  }
}
